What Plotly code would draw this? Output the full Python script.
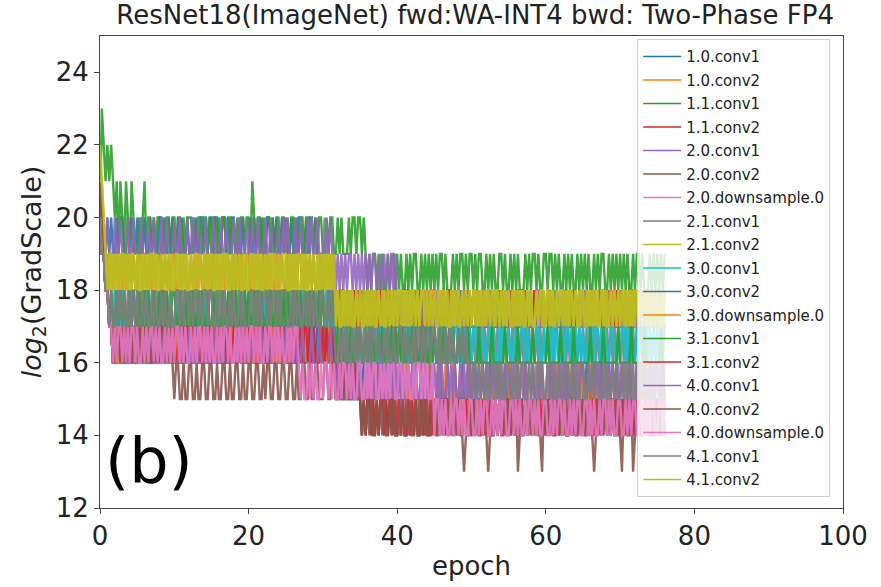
import plotly.graph_objects as go

# Gradient-scale log for ResNet18 layers, logged every quarter epoch.
EPOCH_STEP = 0.25

LAYERS = [
    "1.0.conv1", "1.0.conv2", "1.1.conv1", "1.1.conv2",
    "2.0.conv1", "2.0.conv2", "2.0.downsample.0", "2.1.conv1", "2.1.conv2",
    "3.0.conv1", "3.0.conv2", "3.0.downsample.0", "3.1.conv1", "3.1.conv2",
    "4.0.conv1", "4.0.conv2", "4.0.downsample.0", "4.1.conv1", "4.1.conv2",
]

COLORS = [
    "#1f77b4", "#ff7f0e", "#2ca02c", "#d62728", "#9467bd", "#8c564b", "#e377c2",
    "#7f7f7f", "#bcbd22", "#17becf", "#1f77b4", "#ff7f0e", "#2ca02c", "#d62728",
    "#9467bd", "#8c564b", "#e377c2", "#7f7f7f", "#bcbd22",
]

# log2(GradScale) per logging step, one character per step:
# '3'..'9' -> 13..19, 'a'..'d' -> 20..23 (20 characters = 5 epochs)
L1_0_CONV1 = (
    "ba99a9a99a9aa99a9a99" "a9a9a99a9a99aa9a9a9a" "99a9a99a99a9a9aa9a9a"
    "a9aa99aa9a9aa99a9a99" "9a9a9a9a99aa9a9a99a9" "a99a9a9aa99a9aa9a999"
    "87787787878777877877" "78777877877787787778" "77877787787778777877"
    "87778778777877877787" "77787787778777878777" "87787778778777877787"
    "77877877787787778777" "78777877787778778777" "87787777877877787778"
    "77877"
)
L1_0_CONV2 = (
    "a9989898998989899898" "89989889898998898989" "98898998898989988989"
    "89898898998898989889" "98989988989898898998" "89898989988989898898"
    "98989897878878787787" "87878778787887878787" "78787887878778787878"
    "87787878878787787878" "78878787787878878787" "87878878787787878878"
    "78787787878878787787" "87878787788787878787" "78787878877878787878"
    "87878"
)
L1_1_CONV1 = (
    "adcbcbcbab9ba9ba9ba9" "9a9ab9aa9a9aa9a9aa9a" "a9aa9a9aaa9a9aa9aa9a"
    "9aa9a9aa9aa9a9a9aa9a" "a9ba9aa9a9aa9a9aa9aa" "9a9aa9a9aa9aa9a9a9aa"
    "99a9aa99a9a999a9aa9a" "a9a98989989898898998" "98988989899889898989"
    "89899898889898998989" "98989988989898899898" "89898988898989989889"
    "98998989889898988989" "89898898989988989898" "98989889899898889898"
    "98989"
)
L1_1_CONV2 = (
    "a9988776767767676776" "76767767676677676767" "67677676767676677676"
    "76767676677676767766" "67676776767667676767" "76676767767676676776"
    "76767677787778777878" "77787778777877787778" "77877787778787778777"
    "87778777877787778778" "77787787777877787777" "78777877787777877787"
    "77877787778777787777" "87777877787777877787" "77787777877787778777"
    "78777"
)
L2_0_CONV1 = (
    "ba99a999a99a999a99a9" "99a999a99a999a99a999" "a99a999a99a99a999a99"
    "9a999a99a999a99a999a" "99a99a999a99a999a99a" "9a999a99a999a9a99a99"
    "9a99a998989898998989" "89898989988989898989" "77877787778777878777"
    "78777877787787778777" "77787778777877787787" "87778777877787778777"
    "77877787778777877787" "78777877787778777877" "77787787778777877787"
    "77877"
)
L2_0_CONV2 = (
    "b9988776767676776767" "67767676676776767676" "76676767767667676767"
    "67676676767767676676" "76767667676776767667" "67676776767676676767"
    "67676765656565565656" "54545545454554545454" "45454454545445454545"
    "54455454545545445454" "45454545544545454554" "54545454455454545445"
    "45545454545445454554" "54454545454554545445" "45454554545445454545"
    "54545"
)
L2_0_DOWNSAMPLE_0 = (
    "a9988776767677676767" "67676767767676676767" "76767676677676767676"
    "67677676767676767767" "76767676767767676767" "67676767676767767676"
    "76767676565656565565" "65656565565656565656" "54545454545545454545"
    "45454545454454545454" "54545545454545454554" "45454545545454545454"
    "54545454545454554545" "45454454545454545454" "54545454545545454545"
    "45454"
)
L2_1_CONV1 = (
    "a9988787878878787887" "87878787787878878787" "78787878878787787878"
    "87878878787878787787" "78787878787887878787" "87878787878787787878"
    "87878786767676676767" "76767676676767676767" "67676767767676767676"
    "76767676767667676767" "67676767676776767676" "76767667676767676767"
    "67676776767676767676" "76767676767667676767" "67676767676776767676"
    "76767"
)
L2_1_CONV2 = (
    "cba98989898998989898" "98989898998989898989" "89898989898898989898"
    "98989899898989898989" "89898989898989989898" "98989898898989898989"
    "89898987878787878787" "87878787878778787878" "78787878787878878787"
    "87878787787878787878" "78787878787887878787" "87878787878787787878"
    "78787787878787878787" "87878787878878787878" "78787878787878787787"
    "87878"
)
L3_0_CONV1 = (
    "a9988777877787778777" "87778777877787778777" "78777877787778777877"
    "77877787778777877787" "87778777877787778777" "78777877787778777877"
    "77877786767676767676" "76677676676776767667" "67766767767667676776"
    "76677676676776767667" "67767676677676676776" "76676767767667677667"
    "67767676676776767676" "76676767767676677667" "67767676676767767676"
    "76677"
)
L3_0_CONV2 = (
    "a9988776667666766676" "66766676667666766676" "67666766676667666766"
    "66676667666766676667" "66766676667666766676" "67666766676667666766"
    "66766675556555655565" "55655565556555655565" "56555655565556555655"
    "55565556555655565556" "55655565556555655565" "56555655565556555655"
    "55565556555655565556" "55655565556555655565" "56555655565556555655"
    "55565"
)
L3_0_DOWNSAMPLE_0 = (
    "a9988776676667666766" "67666766676667666766" "66766676667666766676"
    "66676667666766676667" "67666766676667666766" "66766676667666766676"
    "66676665655565556555" "65556555655565556555" "56555655565556555655"
    "55655565556555655565" "65556555655565556555" "56555655565556555655"
    "55655565556555655565" "65556555655565556555" "56555655565556555655"
    "55655"
)
L3_1_CONV1 = (
    "a9988787787878778787" "78778787787787878778" "87787787878778787787"
    "78787787787878778787" "87787878778787787878" "78778787877878787787"
    "87787876767667676676" "76676767667676676767" "67676676767667676676"
    "76676766767667676676" "66667666666766666676" "66666766666667666666"
    "67666666766666676666" "66667666666766666667" "66666676666667666666"
    "66766"
)
L3_1_CONV2 = (
    "a9988776767767676776" "67767676676767767676" "76676767767676676767"
    "67676767676677676767" "76767676767676767767" "67676676767767676676"
    "76767676565656565656" "54545545454554545545" "45454454545445454454"
    "54545545454554545545" "45454454545445454454" "54545545454554545545"
    "45454454545445454454" "54545545454554545545" "45454454545445454454"
    "54545"
)
L4_0_CONV1 = (
    "a9988776667666676667" "66667666766666766676" "66676666766676666766"
    "67666676667666676667" "66766667666766667666" "76666766676666766676"
    "66667665656556565565" "65565656556565565656" "56565565656556565565"
    "65656556565655656565" "56556565655656565565" "65656556565656556565"
    "56565655656565565656" "65565656565565656556" "56565656556565656565"
    "65656"
)
L4_0_CONV2 = (
    "ba988776767676677676" "76767676676767767676" "56655655665565566556"
    "65565566556556655655" "66556655656655665566" "55665565566556556655"
    "56655665565566556655" "54545454454545445454" "45454545445454545445"
    "54545455454545543445" "45454545434545454545" "54545345454545454435"
    "45454545454545545454" "54545434545454545454" "43545453454545454545"
    "45454"
)
L4_0_DOWNSAMPLE_0 = (
    "a9988776767767676776" "76676767767676676767" "67767676676767767676"
    "76676767767667676767" "67767676676776767676" "67676776565565656556"
    "56656565565665656556" "65565656655656565665" "56656565565665656556"
    "45545454454554545445" "54454545544545454554" "45545454454554545445"
    "54454545545445454554" "45545454454554545445" "54454545544545454554"
    "45545"
)
L4_1_CONV1 = (
    "a9988787787878778787" "87787877878778787787" "78878788787887878878"
    "87787878778787787877" "78878787887878878788" "87787878778787878778"
    "87787876676767667676" "76676767767667676676" "67767676676776767767"
    "76676676767667676766" "56656565565665656556" "65565656655656565665"
    "56656556565665656556" "65565656655656556565" "56656565565665656556"
    "65565"
)
L4_1_CONV2 = (
    "bba98998989899898998" "98898989989889898898" "89989898898998989989"
    "98898989988989898898" "89989898898998989899" "98898989989889898898"
    "98989897877878787787" "87787878778787787878" "78878787887878878787"
    "87787878778787787878" "78878787887878878787" "87787878778787787887"
    "78878787887878878778" "87787878778787787878" "78878787887878878787"
    "87787"
)

SERIES = [
    L1_0_CONV1, L1_0_CONV2, L1_1_CONV1, L1_1_CONV2,
    L2_0_CONV1, L2_0_CONV2, L2_0_DOWNSAMPLE_0, L2_1_CONV1, L2_1_CONV2,
    L3_0_CONV1, L3_0_CONV2, L3_0_DOWNSAMPLE_0, L3_1_CONV1, L3_1_CONV2,
    L4_0_CONV1, L4_0_CONV2, L4_0_DOWNSAMPLE_0, L4_1_CONV1, L4_1_CONV2,
]

X_TICKS = [0, 20, 40, 60, 80, 100]
Y_TICKS = [12, 14, 16, 18, 20, 22, 24]

FONT = "DejaVu Sans, sans-serif"


def decode(levels):
    return [int(ch, 16) + 10 for ch in levels]


fig = go.Figure()
for name, color, levels in zip(LAYERS, COLORS, SERIES):
    y = decode(levels)
    x = [i * EPOCH_STEP for i in range(len(y))]
    fig.add_trace(go.Scatter(
        x=x, y=y, mode="lines", name=name, legendgroup=name, showlegend=False,
        line=dict(color=color, width=2.4), opacity=0.9,
    ))
    # thin key line for the legend entry
    fig.add_trace(go.Scatter(
        x=[None], y=[None], mode="lines", name=name, legendgroup=name,
        line=dict(color=color, width=1.5), hoverinfo="skip",
    ))

axis_common = dict(
    showgrid=False, zeroline=False, showline=True, mirror=True,
    linecolor="#444", linewidth=1, ticks="outside", ticklen=5,
    tickcolor="#444", tickfont=dict(family=FONT, size=26, color="#222"),
)

fig.update_layout(
    width=881, height=587,
    margin=dict(l=100, r=38, t=36, b=66),
    paper_bgcolor="white", plot_bgcolor="white",
    title=dict(
        text="ResNet18(ImageNet) fwd:WA-INT4 bwd: Two-Phase FP4",
        xref="paper", x=0.505, xanchor="center", y=0.975, yanchor="middle",
        font=dict(family=FONT, size=26, color="#222"),
    ),
    xaxis=dict(
        range=[0, 100], tickvals=X_TICKS,
        title=dict(text="epoch", font=dict(family=FONT, size=26, color="#222"), standoff=6),
        **axis_common,
    ),
    yaxis=dict(
        range=[12, 25], tickvals=Y_TICKS,
        title=dict(text="<i>log</i><sub>2</sub>(GradScale)",
                   font=dict(family=FONT, size=27, color="#222"), standoff=6),
        **axis_common,
    ),
    legend=dict(
        x=0.723, y=0.993, xanchor="left", yanchor="top",
        bgcolor="rgba(255,255,255,0.8)", bordercolor="#d0d0d0", borderwidth=1,
        font=dict(family=FONT, size=15, color="#222"),
        tracegroupgap=1, traceorder="grouped", itemwidth=38,
    ),
    showlegend=True,
    annotations=[dict(
        text="(b)", xref="paper", yref="paper", x=0.004, y=0.1,
        xanchor="left", yanchor="middle", showarrow=False,
        font=dict(family=FONT, size=62, color="black"),
    )],
)

fig.write_html("out.html")
